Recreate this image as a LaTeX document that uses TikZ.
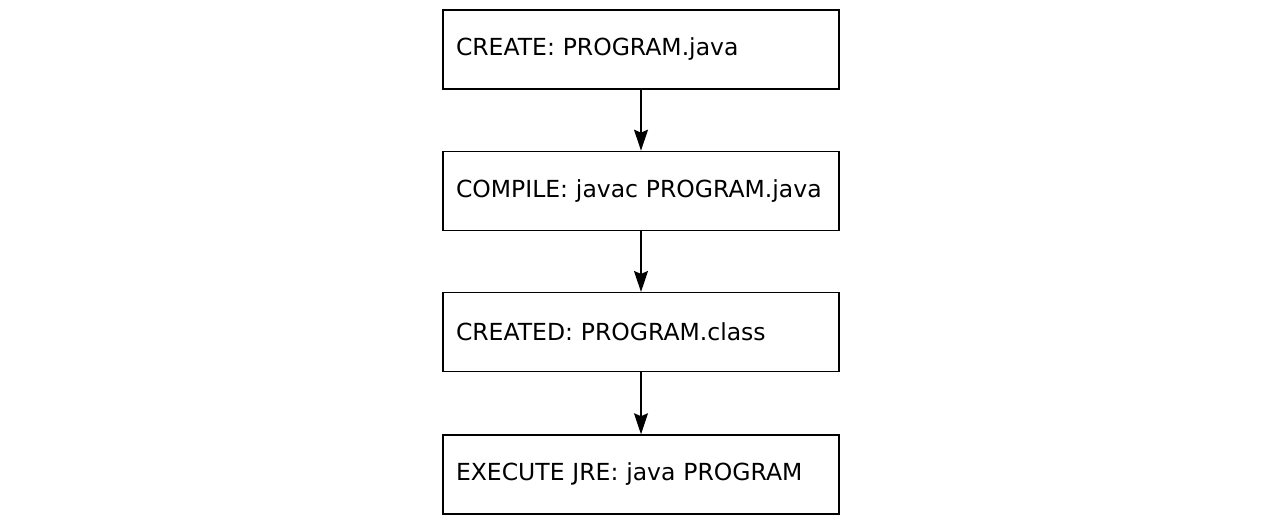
\documentclass[tikz,border=0pt]{standalone}
\usepackage{fontspec}
\setmainfont{DejaVu Sans}
\usetikzlibrary{arrows}
\usetikzlibrary{arrows.meta}
\usetikzlibrary{positioning}

\begin{document}
\begin{tikzpicture}[x=1pt,y=1pt,
	stagebox/.style={draw, line width=1.3pt, minimum width=396pt, minimum height=79pt, text width=370pt, inner xsep=13pt, align=left, font=\fontsize{23.5}{27}\selectfont},
	flowarrow/.style={line width=1.3pt, -{Stealth[length=21pt,width=14pt,inset=3pt]}},
	node distance=62pt]
\useasboundingbox (0,0) rectangle (1283,-527);
\node [stagebox] (create) at (641,-49.5) {CREATE: PROGRAM.java};
\node [stagebox, below=61pt of create] (compile) {COMPILE: javac PROGRAM.java};
\node [stagebox, below=61pt of compile] (created) {CREATED: PROGRAM.class};
\node [stagebox, below=62pt of created] (execute) {EXECUTE JRE: java PROGRAM};
\foreach \a/\b in {create/compile, compile/created, created/execute}
	\draw [flowarrow] (\a) -- (\b);
\end{tikzpicture}
\end{document}
